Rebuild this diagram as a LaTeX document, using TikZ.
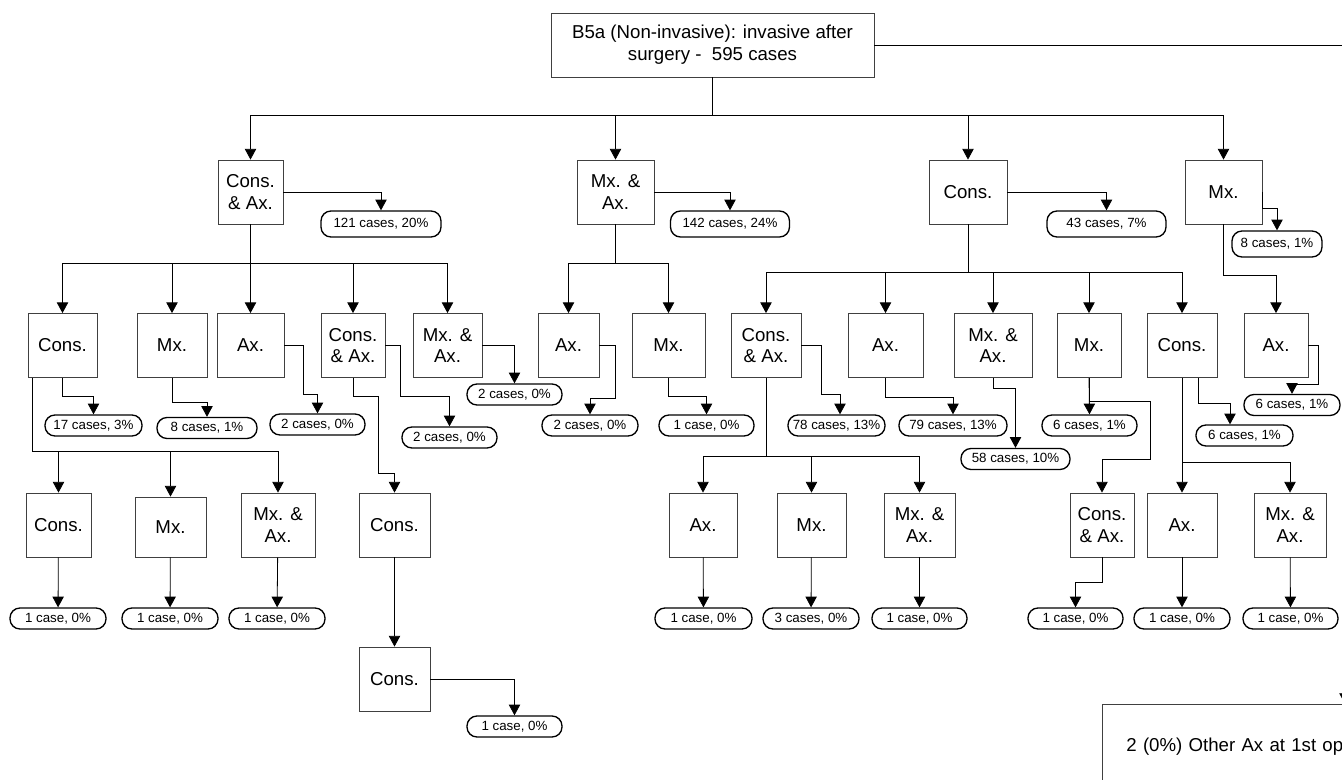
\documentclass[tikz,border=0pt]{standalone}
\usepackage{fontspec}
\setmainfont{Liberation Sans}
\usetikzlibrary{arrows.meta, calc}

\begin{document}
\begin{tikzpicture}[
        x=0.75pt, y=-0.75pt,
        box/.style={rectangle, draw=black!75, line width=0.6pt, minimum height=48pt, inner sep=1pt, align=center, font=\fontsize{14}{16.3}\selectfont},
        outcome/.style={rectangle, draw=black, line width=1pt, rounded corners=7.5pt, minimum height=15.75pt, inner sep=1pt, font=\fontsize{10}{12}\selectfont},
        wd/.style={minimum width=#1*0.75pt},
        arrow/.style={-{Triangle[width=8.5pt,length=8pt]}, line width=0.6pt, black}
    ]
        \useasboundingbox (0,0) rectangle (1342,780);
        \clip (0,0) rectangle (1342,780);

        \node[box, wd=323] (top) at (712.5,45) {B5a (Non-invasive): invasive after\\surgery -\ \ 595 cases};

        \node[box, wd=65] (c1) at (250.5,192) {Cons.\\\& Ax.};
        \node[box, wd=77] (m1) at (615.5,192) {Mx. \&\\Ax.};
        \node[box, wd=78] (c2) at (968,192) {Cons.};
        \node[box, wd=77] (m2) at (1223.5,192) {Mx.};

        \node[outcome, wd=120, minimum height=19.5pt] (o1) at (381,224) {121 cases, 20\%};
        \node[outcome, wd=119, minimum height=19.5pt] (o2) at (730,224) {142 cases, 24\%};
        \node[outcome, wd=119, minimum height=19.5pt] (o3) at (1106.5,224) {43 cases, 7\%};
        \node[outcome, wd=90, minimum height=19.5pt] (o4) at (1277,244) {8 cases, 1\%};

        \node[box, wd=69] (a1) at (62.5,345.5) {Cons.};
        \node[box, wd=70] (a2) at (172,345.5) {Mx.};
        \node[box, wd=67] (a3) at (250.5,345.5) {Ax.};
        \node[box, wd=64] (a4) at (353,345.5) {Cons.\\\& Ax.};
        \node[box, wd=69] (a5) at (447.5,345.5) {Mx. \&\\Ax.};
        \node[box, wd=61] (b1) at (568.5,345.5) {Ax.};
        \node[box, wd=73] (b2) at (668.5,345.5) {Mx.};
        \node[box, wd=70] (d1) at (766,345.5) {Cons.\\\& Ax.};
        \node[box, wd=75] (d2) at (885.5,345.5) {Ax.};
        \node[box, wd=78] (d3) at (993,345.5) {Mx. \&\\Ax.};
        \node[box, wd=64] (d4) at (1089,345.5) {Mx.};
        \node[box, wd=70] (d5) at (1182,345.5) {Cons.};
        \node[box, wd=64] (e1) at (1276,345.5) {Ax.};

        \node[outcome, wd=97] (p1) at (93.5,425.5) {17 cases, 3\%};
        \node[outcome, wd=100] (p2) at (207,428) {8 cases, 1\%};
        \node[outcome, wd=95] (p3) at (317.5,424.5) {2 cases, 0\%};
        \node[outcome, wd=95] (p4) at (449.5,437.5) {2 cases, 0\%};
        \node[outcome, wd=95] (p5) at (514.5,394.5) {2 cases, 0\%};
        \node[outcome, wd=96] (q1) at (590,425.5) {2 cases, 0\%};
        \node[outcome, wd=95] (q2) at (706.5,425.5) {1 case, 0\%};
        \node[outcome, wd=97] (r1) at (836.5,425.5) {78 cases, 13\%};
        \node[outcome, wd=108] (r2) at (953,425.5) {79 cases, 13\%};
        \node[outcome, wd=109] (r3) at (1015.5,459) {58 cases, 10\%};
        \node[outcome, wd=95] (r4) at (1089.5,425.5) {6 cases, 1\%};
        \node[outcome, wd=97] (r5) at (1244.5,435.5) {6 cases, 1\%};
        \node[outcome, wd=96] (r6) at (1292,405) {6 cases, 1\%};

        \node[box, wd=65] (f1) at (58.5,525) {Cons.};
        \node[box, wd=71, minimum height=45pt] (f2) at (170.5,527) {Mx.};
        \node[box, wd=74] (f3) at (278,525) {Mx. \&\\Ax.};
        \node[box, wd=71] (g1) at (394.5,525) {Cons.};
        \node[box, wd=68] (h1) at (703,525) {Ax.};
        \node[box, wd=69] (h2) at (811.5,525) {Mx.};
        \node[box, wd=71] (h3) at (919.5,525) {Mx. \&\\Ax.};
        \node[box, wd=64] (k1) at (1102,525) {Cons.\\\& Ax.};
        \node[box, wd=70] (k2) at (1182,525) {Ax.};
        \node[box, wd=72] (k3) at (1290,525) {Mx. \&\\Ax.};
        \node[box, wd=71] (g2) at (394.5,679) {Cons.};

        \node[outcome, wd=96] (s1) at (58,618.5) {1 case, 0\%};
        \node[outcome, wd=96] (s2) at (170,618.5) {1 case, 0\%};
        \node[outcome, wd=96] (s3) at (277,618.5) {1 case, 0\%};
        \node[outcome, wd=97] (t1) at (703.5,618.5) {1 case, 0\%};
        \node[outcome, wd=96] (t2) at (811,618.5) {3 cases, 0\%};
        \node[outcome, wd=95] (t3) at (919.5,618.5) {1 case, 0\%};
        \node[outcome, wd=95] (u1) at (1075.5,618.5) {1 case, 0\%};
        \node[outcome, wd=96] (u2) at (1182,618.5) {1 case, 0\%};
        \node[outcome, wd=95] (u3) at (1290.5,618.5) {1 case, 0\%};
        \node[outcome, wd=95] (v1) at (514.5,726.5) {1 case, 0\%};

        \node[box, anchor=north west, minimum height=63pt, text width=264pt, inner xsep=18pt, align=left] (other) at (1102,704) {2 (0\%) Other Ax at 1st op};
        \coordinate (otherin) at (1345,704);

        \draw[arrow] (top.east) -| (otherin);
        \foreach \n in {c1,m1,c2,m2} {
            \draw[arrow] (top.south) -- ++(0,38) -| (\n.north);
        }
        \foreach \n in {a1,a2,a3,a4,a5} {
            \draw[arrow] (c1.south) -- ++(0,39) -| (\n.north);
        }
        \foreach \n in {b1,b2} {
            \draw[arrow] (m1.south) -- ++(0,39) -| (\n.north);
        }
        \foreach \n in {d1,d2,d3,d4,d5} {
            \draw[arrow] (c2.south) -- ++(0,48) -| (\n.north);
        }
        \draw[arrow] (m2.south) -- ++(0,51) -| (e1.north);

        \draw[arrow] (c1.east) -| (o1.north);
        \draw[arrow] (m1.east) -| (o2.north);
        \draw[arrow] (c2.east) -| (o3.north);
        \draw[arrow] (m2.east) -- ++(0,16) -| (o4.north);

        \draw[arrow] (a1.south) -- ++(0,19) -| (p1.north);
        \draw[arrow] (a2.south) -- ++(0,25) -| (p2.north);
        \draw[arrow] (a3.east) -- ++(19,0) -- ++(0,49) -| (p3.north);
        \draw[arrow] (a4.east) -- ++(15,0) -- ++(0,51) -| (p4.north);
        \draw[arrow] (a5.east) -| (p5.north);
        \draw[arrow] (b1.east) -- ++(16,0) -- ++(0,53) -| (q1.north);
        \draw[arrow] (b2.south) -- ++(0,19) -| (q2.north);
        \draw[arrow] (d1.east) -- ++(20,0) -- ++(0,49) -| ($(r1.north)+(3.5,0)$);
        \draw[arrow] (d2.south) -- ++(0,20) -| (r2.north);
        \draw[arrow] (d3.south) -- ++(0,11) -| (r3.north);
        \draw[arrow] (d4.south) -- (r4.north);
        \draw[arrow] ($(d5.south)+(16,0)$) -- ++(0,26) -| ($(r5.north)+(-14.5,0)$);
        \draw[arrow] (e1.east) -- ++(10,0) -- ++(0,39) -| (r6.north);

        \foreach \n in {f1,f2,f3} {
            \draw[arrow] ($(a1.south west)+(5,0)$) -- ++(0,73) -| (\n.north);
        }
        \draw[arrow] (a4.south) -- ++(0,19) -- ++(25,0) -- ++(0,76) -| (g1.north);
        \foreach \n in {h1,h2,h3} {
            \draw[arrow] (d1.south) -- ++(0,78) -| (\n.north);
        }
        \draw[arrow] (d4.south) -- ++(0,24) -- ++(61,0) -- ++(0,57) -| (k1.north);
        \foreach \n in {k2,k3} {
            \draw[arrow] (d5.south) -- ++(0,84) -| (\n.north);
        }

        \draw[arrow] (f1) -- (s1);
        \draw[arrow] (f2) -- (s2);
        \draw[arrow] (f3) -- (s3);
        \draw[arrow] (g1) -- (g2);
        \draw[arrow] (g2.east) -| (v1.north);
        \draw[arrow] (h1) -- (t1);
        \draw[arrow] (h2) -- (t2);
        \draw[arrow] (h3) -- (t3);
        \draw[arrow] (k1.south) -- ++(0,25) -| (u1.north);
        \draw[arrow] (k2) -- (u2);
        \draw[arrow] (k3) -- (u3);
    \end{tikzpicture}
\end{document}
